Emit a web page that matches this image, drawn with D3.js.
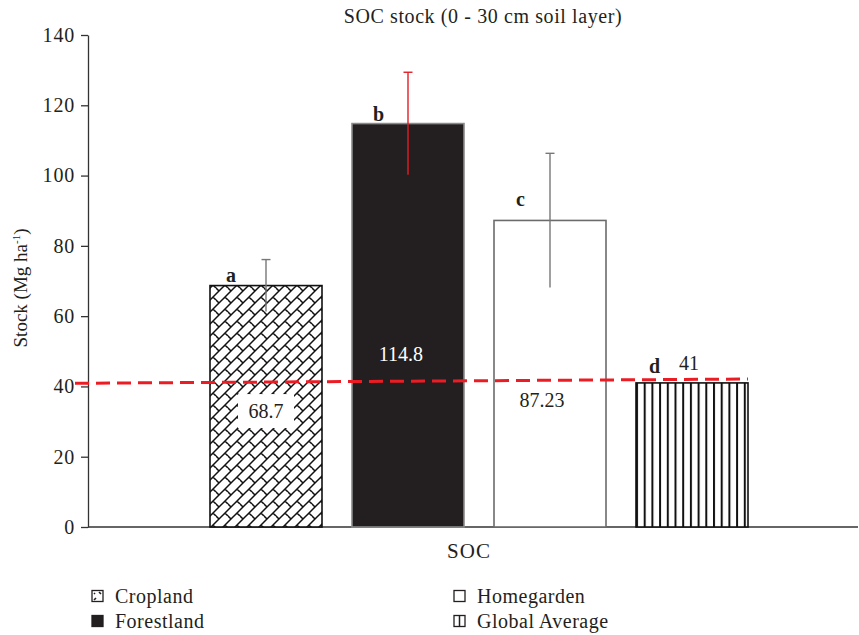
<!DOCTYPE html>
<html>
<head>
<meta charset="utf-8">
<script src="https://cdn.jsdelivr.net/npm/d3@7"></script>
<style>
  body { margin: 0; background: #fff; }
  text { font-family: "Liberation Serif", "DejaVu Serif", serif; fill: #231f20; }
</style>
</head>
<body>
<svg id="chart"></svg>
<script>
const width = 859;
const height = 635;

// Chart data
const categories = ["Cropland", "Forestland", "Homegarden", "Global Average"];
const stocks = [68.7, 114.8, 87.23, 41];
const errors = [7.4, 14.6, 19.1, 0];
const letters = ["a", "b", "c", "d"];
const valueLabels = ["68.7", "114.8", "87.23", "41"];
const globalLine = [40.9, 42.1]; // red dashed reference (left end, right end)
const yTicks = [0, 20, 40, 60, 80, 100, 120, 140];

const margin = { top: 35, right: 1, bottom: 108, left: 88 };

const svg = d3.select("#chart")
    .attr("width", width)
    .attr("height", height);

const defs = svg.append("defs");

// Diagonal brick pattern for cropland
const brick = defs.append("pattern")
    .attr("id", "brick")
    .attr("patternUnits", "userSpaceOnUse")
    .attr("x", 210).attr("y", 0)
    .attr("width", 12).attr("height", 12);
brick.append("rect").attr("width", 12).attr("height", 12).attr("fill", "#fff");
brick.append("path")
    .attr("d", "M-1,13 L13,-1 M-1,1 L1,-1 M11,13 L13,11 M3,9 L6.5,12.5 M6,0 L9,3")
    .attr("stroke", "#111").attr("stroke-width", 1.5).attr("fill", "none");

// Vertical stripes for global average
const stripes = defs.append("pattern")
    .attr("id", "stripes")
    .attr("patternUnits", "userSpaceOnUse")
    .attr("x", 636)
    .attr("width", 7.7).attr("height", 10);
stripes.append("rect").attr("width", 7.7).attr("height", 10).attr("fill", "#fff");
stripes.append("rect").attr("x", 0).attr("width", 2).attr("height", 10).attr("fill", "#111");

const fills = ["url(#brick)", "#231f20", "#fff", "url(#stripes)"];
const strokes = ["#111", "#8a8a8a", "#6b6b6b", "#111"];
const errColors = ["#777", "#e31d24", "#777", "#777"];

const x = d3.scaleBand()
    .domain(categories)
    .range([195, 763])
    .paddingInner(30 / 142)
    .paddingOuter(15 / 142);

const y = d3.scaleLinear()
    .domain([0, 140])
    .range([height - margin.bottom, margin.top]);

// Y axis
const yAxis = svg.append("g")
    .attr("transform", `translate(${margin.left},0)`)
    .call(d3.axisLeft(y).tickValues(yTicks).tickSize(7).tickSizeOuter(0).tickPadding(6));
yAxis.select(".domain").attr("stroke", "#333").attr("stroke-width", 1.3);
yAxis.selectAll(".tick line").attr("stroke", "#333").attr("stroke-width", 1.3);
yAxis.selectAll(".tick text")
    .style("font-family", "Liberation Serif")
    .style("font-size", "20px")
    .style("letter-spacing", "0.8px")
    .attr("fill", "#231f20");

// X axis line
svg.append("line")
    .attr("x1", margin.left).attr("x2", width - margin.right)
    .attr("y1", y(0)).attr("y2", y(0))
    .attr("stroke", "#333").attr("stroke-width", 1.3);

// Bars
svg.selectAll(".bar")
    .data(stocks)
    .enter().append("rect")
    .attr("class", "bar")
    .attr("x", (d, i) => x(categories[i]))
    .attr("width", x.bandwidth())
    .attr("y", d => y(d))
    .attr("height", d => y(0) - y(d))
    .attr("fill", (d, i) => fills[i])
    .attr("stroke", (d, i) => strokes[i])
    .attr("stroke-width", 1.6);

// Error bars
stocks.forEach((d, i) => {
    if (!errors[i]) return;
    const cx = x(categories[i]) + x.bandwidth() / 2;
    const g = svg.append("g").attr("stroke", errColors[i]).attr("stroke-width", 1.4);
    g.append("line").attr("x1", cx).attr("x2", cx)
        .attr("y1", y(d - errors[i])).attr("y2", y(d + errors[i]));
    g.append("line").attr("x1", cx - 4.5).attr("x2", cx + 4.5)
        .attr("y1", y(d + errors[i])).attr("y2", y(d + errors[i]));
});

// Value labels (positioned like the manually moved Excel labels)
const labelPos = [
    { dx: 0, v: 31.0, bg: true, color: "#231f20" },
    { dx: -7, v: 47.1, bg: false, color: "#fff" },
    { dx: -8, v: 34.1, bg: false, color: "#231f20" },
    { dx: -3, v: 44.6, bg: false, color: "#231f20" }
];
valueLabels.forEach((t, i) => {
    const cx = x(categories[i]) + x.bandwidth() / 2 + labelPos[i].dx;
    const by = y(labelPos[i].v);
    if (labelPos[i].bg) {
        svg.append("rect")
            .attr("x", cx - 28).attr("y", by - 24)
            .attr("width", 56).attr("height", 34)
            .attr("fill", "#fff");
    }
    svg.append("text")
        .attr("x", cx).attr("y", by)
        .attr("text-anchor", "middle")
        .style("font-size", "20px")
        .style("fill", labelPos[i].color)
        .text(t);
});

// Significance letters
const letterPos = [{ dx: 16, dy: 4 }, { dx: 21, dy: 3 }, { dx: 22, dy: 14 }, { dx: 13, dy: 10 }];
letters.forEach((t, i) => {
    svg.append("text")
        .attr("x", x(categories[i]) + letterPos[i].dx)
        .attr("y", y(stocks[i]) - letterPos[i].dy)
        .style("font-size", "20px")
        .style("font-weight", "bold")
        .text(t);
});

// Red dashed global average line
svg.append("line")
    .attr("x1", margin.left - 13)
    .attr("x2", x(categories[3]) + x.bandwidth())
    .attr("y1", y(globalLine[0]))
    .attr("y2", y(globalLine[1]))
    .attr("stroke", "#ec1c24")
    .attr("stroke-width", 3)
    .attr("stroke-dasharray", "14,7");

// Title
svg.append("text")
    .attr("x", 483).attr("y", 23)
    .attr("text-anchor", "middle")
    .style("font-size", "20px")
    .style("letter-spacing", "0.6px")
    .text("SOC stock (0 - 30 cm soil layer)");

// Y axis label
const yl = svg.append("text")
    .attr("transform", "translate(27,288) rotate(-90)")
    .attr("text-anchor", "middle")
    .style("font-size", "19px");
yl.append("tspan").text("Stock (Mg ha");
yl.append("tspan").attr("dy", -7).style("font-size", "11px").text("-1");
yl.append("tspan").attr("dy", 7).text(")");

// X axis label
svg.append("text")
    .attr("x", 469).attr("y", 558)
    .attr("text-anchor", "middle")
    .style("font-size", "21px")
    .style("letter-spacing", "1px")
    .text("SOC");

// Legend
const legendX = [92, 454];
const legendY = [596, 621];
categories.forEach((c, i) => {
    const lx = legendX[i < 2 ? 0 : 1];
    const ly = legendY[i % 2];
    svg.append("rect")
        .attr("x", lx).attr("y", ly - 5.5)
        .attr("width", 11).attr("height", 11)
        .attr("fill", i === 1 ? "#231f20" : "#fff")
        .attr("stroke", "#231f20")
        .attr("stroke-width", 1.3);
    if (i === 0) {
        svg.append("path")
            .attr("d", `M${lx + 2},${ly + 4} L${lx + 4},${ly + 2} M${lx + 7},${ly - 4} L${lx + 9},${ly - 2} M${lx + 2},${ly - 3} L${lx + 3},${ly - 2}`)
            .attr("stroke", "#231f20").attr("stroke-width", 1.6);
    }
    if (i === 3) {
        svg.append("line")
            .attr("x1", lx + 5.5).attr("x2", lx + 5.5)
            .attr("y1", ly - 5.5).attr("y2", ly + 5.5)
            .attr("stroke", "#231f20").attr("stroke-width", 1.5);
    }
    svg.append("text")
        .attr("x", lx + 23).attr("y", ly + 7)
        .style("font-size", "20px")
        .style("letter-spacing", "0.5px")
        .text(c);
});
</script>
</body>
</html>
